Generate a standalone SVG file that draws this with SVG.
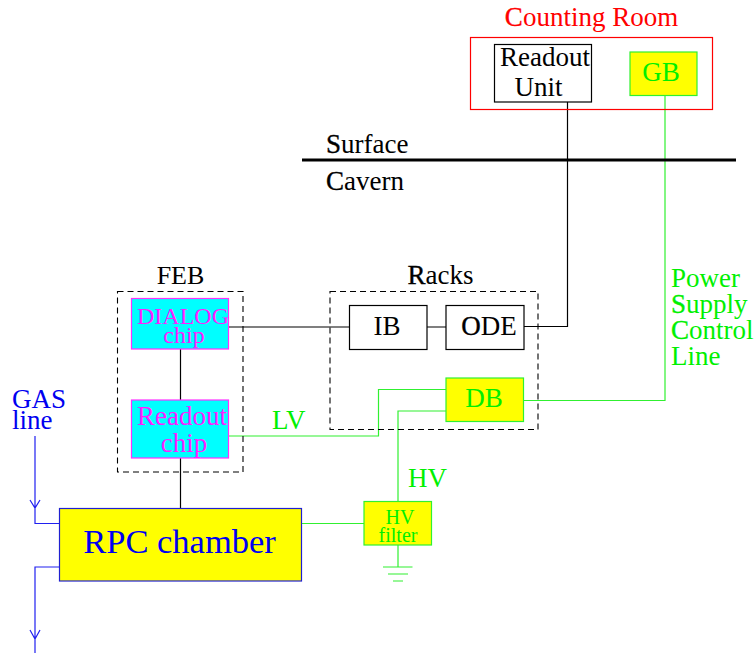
<svg xmlns="http://www.w3.org/2000/svg" width="756" height="656" viewBox="0 0 756 656">
<style>
text{font-family:"Liberation Serif","Times New Roman",serif;text-anchor:middle}
.st{text-anchor:start}
.bk{fill:#000}.gr{fill:#00f000}.bl{fill:#0000f0}.mg{fill:#ff20ff}.rd{fill:#ff0000}
.kc{stroke:#000;stroke-width:.35}.gc{stroke:#00f000;stroke-width:.35}.rc{stroke:#ff0000;stroke-width:.35}
rect{stroke-width:1.2}
.w{fill:#fff;stroke:#000}
.y{fill:#ffff00;stroke:#30f030}
.c{fill:#00ffff;stroke:#ff30ff}
.d{fill:none;stroke:#000;stroke-dasharray:6 4;stroke-width:1.1}
.l{fill:none;stroke-width:1.2}
.lk{stroke:#000}.lg{stroke:#30f030}.lb{stroke:#2020f0}
</style>
<g id="connectors" class="l">
<path class="lk" d="M567.5 102V326.500H524M427 327H446M228.500 327H349.500M180.500 349V400M180.500 458V508.500"/>
<path class="lg" d="M665 95.500V400.500H523.500M228.500 436H378.500V389.500H446M398 501.500V411H446M301.500 523.500H364M398 545V567M383 567H412.500M388 574H408M393 581H403"/>
<path class="lb" d="M35 436V523.500H59.500M30 500L35 508L40 500M59.500 567H35V653M30 630L35 639L40 630"/>
<path d="M302 160H736" stroke="#000" stroke-width="2.800" fill="none"/>
</g>
<g id="counting-room"><rect x="470.500" y="37.500" width="242" height="72" fill="none" stroke="#ff0000"/>
<text x="591.500" y="26" font-size="27" class="rd"><tspan class="rc">C</tspan>ounting Room</text></g>
<g id="readout-unit"><rect class="w" x="494.500" y="44.500" width="97" height="57.500"/>
<text x="545" y="66" font-size="27" class="bk">Readout</text><text x="538.500" y="96" font-size="27" class="bk">Unit</text></g>
<g id="gb"><rect class="y" x="630" y="52" width="67" height="43.500"/>
<text x="661" y="81" font-size="27" class="gr">GB</text></g>
<g id="surface"><text x="326" y="153" font-size="27" class="st bk"><tspan class="kc">S</tspan>urface</text></g>
<g id="cavern"><text x="326" y="190" font-size="27" class="st bk"><tspan class="kc">C</tspan>avern</text></g>
<g id="feb"><rect class="d" x="117.500" y="291.500" width="125.500" height="180.500"/>
<text x="180.500" y="284" font-size="26" class="bk">FEB</text></g>
<g id="dialog"><rect class="c" x="131.500" y="298.500" width="97" height="50.500"/>
<text x="183" y="324" font-size="24" class="mg">DIALOG</text><text x="184" y="343" font-size="24" class="mg">chip</text></g>
<g id="readout-chip"><rect class="c" x="131.500" y="400" width="97" height="58"/>
<text x="182" y="425" font-size="27" class="mg">Readout</text><text x="184" y="452" font-size="27" class="mg">chip</text></g>
<g id="racks"><rect class="d" x="330" y="291.500" width="208" height="138"/>
<text x="440.500" y="284" font-size="27" class="bk"><tspan class="kc">R</tspan>acks</text></g>
<g id="ib"><rect class="w" x="349.500" y="305.500" width="77.500" height="44"/>
<text x="387" y="335" font-size="27" class="bk">IB</text></g>
<g id="ode"><rect class="w" x="446" y="305.500" width="78" height="44"/>
<text x="489" y="335" font-size="27" class="bk"><tspan class="kc">O</tspan>DE</text></g>
<g id="db"><rect class="y" x="446" y="378" width="77.500" height="43.500"/>
<text x="484" y="407" font-size="27" class="gr">DB</text></g>
<g id="hv-filter"><rect class="y" x="364" y="501.500" width="67.500" height="43.500"/>
<text x="400" y="524" font-size="20" class="gr">HV</text><text x="398" y="542" font-size="20" class="gr">filter</text></g>
<g id="rpc"><rect x="59.500" y="508.500" width="242" height="72.500" fill="#ffff00" stroke="#2020d0"/>
<text x="179.500" y="553" font-size="34.500" class="bl">RPC chamber</text></g>
<g id="labels">
<text x="12" y="408" font-size="27" class="st bl">GAS</text>
<text x="12" y="429" font-size="27" class="st bl">line</text>
<text x="272" y="429" font-size="27" class="st gr">LV</text>
<text x="408" y="487" font-size="27" class="st gr">HV</text>
<text x="671" y="287" font-size="27" class="st gr">Power</text>
<text x="671" y="313" font-size="27" class="st gr"><tspan class="gc">S</tspan>upply</text>
<text x="671" y="339" font-size="27" class="st gr"><tspan class="gc">C</tspan>ontrol</text>
<text x="671" y="365" font-size="27" class="st gr">Line</text>
</g>
</svg>
